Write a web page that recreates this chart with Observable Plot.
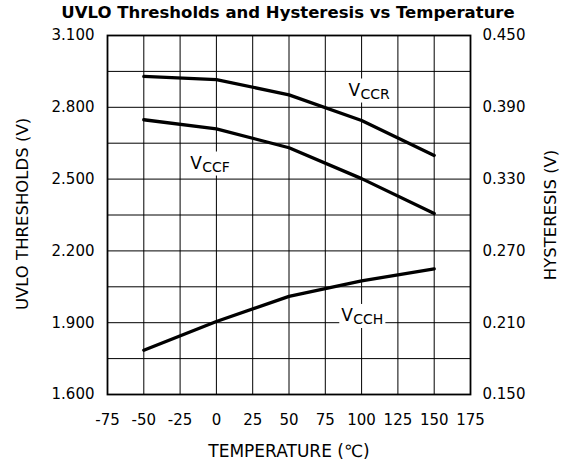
<!DOCTYPE html>
<html><head><meta charset="utf-8">
<script src="https://cdn.jsdelivr.net/npm/d3@7"></script>
<script src="https://cdn.jsdelivr.net/npm/@observablehq/plot@0.6"></script>
<style>
body{margin:0;background:#fff;font-family:"DejaVu Sans",sans-serif;}
#wrap{position:relative;width:562px;height:472px;}
#wrap svg{position:absolute;left:0;top:0;}
#title{position:absolute;left:0;top:4px;width:576px;text-align:center;font-weight:bold;font-size:16.5px;line-height:18px;z-index:2;}
</style></head><body><div id="wrap"><div id="title">UVLO Thresholds and Hysteresis vs Temperature</div></div>
<script>
// Data
const temps = [-50, 0, 50, 100, 150];
const vccr = [2.929, 2.916, 2.852, 2.745, 2.599];   // UVLO rising threshold (V), left axis
const vccf = [2.748, 2.710, 2.631, 2.502, 2.356];   // UVLO falling threshold (V), left axis
const vcch = [0.187, 0.211, 0.232, 0.245, 0.255];   // hysteresis (V), right axis

const xTicks = [-75, -50, -25, 0, 25, 50, 75, 100, 125, 150, 175];
const leftTicks = [1.6, 1.9, 2.2, 2.5, 2.8, 3.1];
const rightTicks = [0.15, 0.21, 0.27, 0.33, 0.39, 0.45];
const gridRows = [1.6, 1.75, 1.9, 2.05, 2.2, 2.35, 2.5, 2.65, 2.8, 2.95, 3.1];

const labelNames = ["CCR", "CCF", "CCH"];
const labelX = [91, -18, 86];
const labelY = [2.872, 2.567, 1.930];

// right axis (hysteresis) mapped linearly onto left axis
const hToLeft = h => leftTicks[0] + (h - rightTicks[0]) * (leftTicks[5] - leftTicks[0]) / (rightTicks[5] - rightTicks[0]);

const series = [
  ...temps.map((t, i) => ({name: "VCCR", t, v: vccr[i]})),
  ...temps.map((t, i) => ({name: "VCCF", t, v: vccf[i]})),
  ...temps.map((t, i) => ({name: "VCCH", t, v: hToLeft(vcch[i])}))
];
const labels = labelNames.map((n, i) => ({n, x: labelX[i], y: labelY[i]}));

const font = "'DejaVu Sans', sans-serif";
const chart = Plot.plot({
  width: 562, height: 472,
  marginTop: 35, marginBottom: 78, marginLeft: 107, marginRight: 92,
  style: {fontFamily: font, fontSize: "15px", color: "black", background: "white", overflow: "visible"},
  x: {domain: [-75, 175]},
  y: {domain: [1.6, 3.1]},
  marks: [
    Plot.gridX(xTicks, {stroke: "black", strokeOpacity: 1, strokeWidth: 1}),
    Plot.gridY(gridRows, {stroke: "black", strokeOpacity: 1, strokeWidth: 1}),
    Plot.frame({stroke: "black", strokeWidth: 1.8}),
    Plot.axisX(xTicks, {tickSize: 0, tickPadding: 20, label: null, fontSize: 15, tickFormat: d => String(d)}),
    Plot.axisY(leftTicks, {anchor: "left", tickSize: 0, tickPadding: 13, tickFormat: d3.format(".3f"), label: null, fontSize: 15}),
    Plot.axisY(leftTicks, {anchor: "right", tickSize: 0, tickPadding: 12, tickFormat: (d, i) => d3.format(".3f")(rightTicks[i]), label: null, fontSize: 15}),
    Plot.line(series, {x: "t", y: "v", z: "name", stroke: "black", strokeWidth: 3.3}),
    Plot.text(labels, {x: "x", y: "y", text: () => "V", textAnchor: "start", fontSize: 17, ariaDescription: "label-main"}),
    Plot.text(labels, {x: "x", y: "y", text: "n", textAnchor: "start", dx: 12, dy: 4, fontSize: 14, ariaDescription: "label-sub"}),
    Plot.text(["UVLO THRESHOLDS (V)"], {frameAnchor: "left", textAnchor: "middle", dx: -85, dy: -1, rotate: -90, fontSize: 16.5}),
    Plot.text(["HYSTERESIS (V)"], {frameAnchor: "right", textAnchor: "middle", dx: 80, rotate: -90, fontSize: 16.5}),
    Plot.text(["TEMPERATURE (\u2103)"], {frameAnchor: "bottom", dy: 62, fontSize: 17})
  ]
});
document.getElementById("wrap").append(chart);

// white boxes behind curve labels (sized from the rendered text)
const gMain = chart.querySelector('g[aria-description="label-main"]');
const gSub = chart.querySelector('g[aria-description="label-sub"]');
if (gMain && gSub) {
  const tm = gMain.querySelectorAll("text"), ts = gSub.querySelectorAll("text");
  const sv = chart.getBoundingClientRect();
  tm.forEach((t, i) => {
    const a = t.getBoundingClientRect(), b = ts[i].getBoundingClientRect();
    const x0 = Math.min(a.left, b.left) - sv.left - 2, x1 = Math.max(a.right, b.right) - sv.left + 2;
    const y0 = Math.min(a.top, b.top) - sv.top - 1, y1 = Math.max(a.bottom, b.bottom) - sv.top + 1;
    const r = document.createElementNS("http://www.w3.org/2000/svg", "rect");
    r.setAttribute("x", x0); r.setAttribute("y", y0);
    r.setAttribute("width", x1 - x0); r.setAttribute("height", y1 - y0);
    r.setAttribute("fill", "white");
    gMain.parentNode.insertBefore(r, gMain);
  });
}
</script></body></html>
